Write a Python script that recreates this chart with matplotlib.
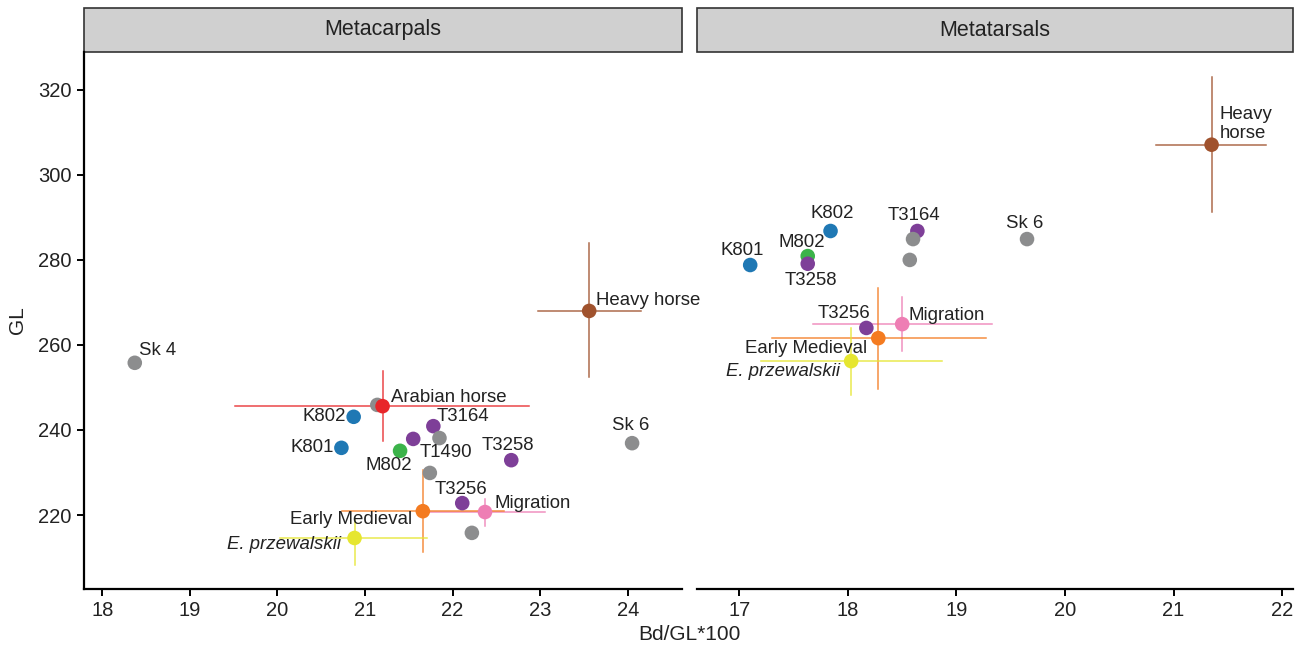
import matplotlib
matplotlib.use("Agg")
import matplotlib.pyplot as plt
from matplotlib.patches import Rectangle

plt.rcParams.update({"font.family": ["Liberation Sans", "DejaVu Sans"], "font.size": 13})

COLORS = {"grey": "#8C8D8E", "blue": "#1F78B4", "green": "#3BB34A", "purple": "#7E3F98",
          "red": "#E8262A", "brown": "#A0522D", "orange": "#F47B20", "pink": "#EE7EB4",
          "yellow": "#E6E630"}
TXT = "#222222"

# ---- Metacarpals: individual specimens ----
mc_x = [18.37, 21.14, 20.87, 20.73, 21.40, 21.55, 21.78, 21.85, 21.74, 22.67, 24.05, 22.11, 22.22]
mc_y = [255.8, 245.9, 243.1, 235.8, 235.1, 237.9, 240.9, 238.1, 229.9, 232.9, 236.9, 222.8, 215.8]
mc_grp = ["grey", "grey", "blue", "blue", "green", "purple", "purple", "grey", "grey",
          "purple", "grey", "purple", "grey"]
mc_lab = ["Sk 4", "", "K802", "K801", "M802", "", "T3164", "", "T1490", "T3258", "Sk 6", "T3256", ""]
# label placement: (dx px, dy px, ha)
mc_pos = [(4, -12, "left"), None, (-8, 0, "right"), (-8, 0, "right"), (12, 15, "right"), None,
          (3, -10, "left"), None, (16, -20, "center"), (-3, -15, "center"), (-1, -18, "center"),
          (-1, -14, "center"), None]

# ---- Metacarpals: reference means with ranges ----
mc_ref = ["Arabian horse", "Heavy horse", "Migration", "Early Medieval", "E. przewalskii"]
mc_ref_col = ["red", "brown", "pink", "orange", "yellow"]
mc_ref_x = [21.20, 23.56, 22.37, 21.66, 20.88]
mc_ref_y = [245.6, 268.0, 220.7, 220.9, 214.6]
mc_ref_xlo = [19.51, 22.97, 21.71, 20.74, 20.03]
mc_ref_xhi = [22.87, 24.15, 23.06, 22.59, 21.71]
mc_ref_ylo = [237.4, 252.5, 217.4, 211.3, 208.2]
mc_ref_yhi = [253.9, 284.0, 223.8, 230.6, 218.8]
mc_ref_pos = [(8, -9, "left"), (7, -10, "left"), (9, -9, "left"), (-11, 8, "right"), (-14, 7, "right")]

# ---- Metatarsals: individual specimens ----
mt_x = [17.84, 17.10, 17.63, 17.63, 18.64, 18.60, 18.57, 19.65, 18.17]
mt_y = [286.8, 278.8, 280.9, 279.1, 286.8, 284.9, 280.0, 284.9, 264.0]
mt_grp = ["blue", "blue", "green", "purple", "purple", "grey", "grey", "grey", "purple"]
mt_lab = ["K802", "K801", "M802", "T3258", "T3164", "", "", "Sk 6", "T3256"]
mt_pos = [(2, -17, "center"), (-8, -15, "center"), (-6, -14, "center"), (3, 17, "center"),
          (-3, -15, "center"), None, None, (-2, -16, "center"), (-22, -14, "center")]

# ---- Metatarsals: reference means with ranges ----
mt_ref = ["Heavy\nhorse", "Migration", "Early Medieval", "E. przewalskii"]
mt_ref_col = ["brown", "pink", "orange", "yellow"]
mt_ref_x = [21.35, 18.50, 18.28, 18.03]
mt_ref_y = [307.1, 264.9, 261.6, 256.2]
mt_ref_xlo = [20.84, 17.68, 17.30, 17.20]
mt_ref_xhi = [21.85, 19.33, 19.27, 18.87]
mt_ref_ylo = [291.3, 258.6, 249.6, 248.2]
mt_ref_yhi = [323.1, 271.3, 273.4, 264.0]
mt_ref_pos = [(8, -21, "left"), (6, -9, "left"), (-11, 10, "right"), (-11, 10, "right")]

W, H = 1305, 645
fig = plt.figure(figsize=(W / 100, H / 100), dpi=100)


def px_box(x0, y0, x1, y1):
    return [x0 / W, 1 - y1 / H, (x1 - x0) / W, (y1 - y0) / H]


def label(ax, text, x, y, pos, italic=False):
    dx, dy, ha = pos
    ax.annotate(text, (x, y), xytext=(dx * 0.72, -dy * 0.72), textcoords="offset points",
                ha=ha, va="center", fontsize=13.4, color=TXT,
                style="italic" if italic else "normal", linespacing=1.15)


def panel(ax, title, xs, ys, grp, labs, poss, ref, rcol, rx, ry, rxlo, rxhi, rylo, ryhi, rpos):
    for i in range(len(ref)):
        c = COLORS[rcol[i]]
        ax.plot([rxlo[i], rxhi[i]], [ry[i], ry[i]], color=c, lw=1.1, alpha=0.85, zorder=1)
        ax.plot([rx[i], rx[i]], [rylo[i], ryhi[i]], color=c, lw=1.1, alpha=0.85, zorder=1)
    ax.scatter(xs, ys, s=110, c=[COLORS[g] for g in grp], edgecolors="none", zorder=2)
    ax.scatter(rx, ry, s=110, c=[COLORS[c] for c in rcol], edgecolors="none", zorder=3)
    for x, y, t, p in zip(xs, ys, labs, poss):
        if t:
            label(ax, t, x, y, p)
    for x, y, t, p in zip(rx, ry, ref, rpos):
        label(ax, t, x, y, p, italic=t.startswith("E. "))
    for s in ("top", "right"):
        ax.spines[s].set_visible(False)
    ax.spines["bottom"].set_linewidth(1.6)
    ax.spines["left"].set_linewidth(1.6)
    ax.tick_params(length=5, width=1.4, labelsize=14.5, labelcolor=TXT, pad=4)
    ax.set_ylim(202.6, 328.9)
    ax.set_yticks([220, 240, 260, 280, 300, 320])
    # facet strip above the panel
    ax.add_patch(Rectangle((0, 1.0), 1, 44 / 537, transform=ax.transAxes, clip_on=False,
                           facecolor="#D0D0D0", edgecolor="#333333", lw=1.2))
    ax.text(0.5, 1 + 22 / 537, title, transform=ax.transAxes, ha="center", va="center",
            fontsize=15.5, color=TXT)


ax1 = fig.add_axes(px_box(84, 52, 682, 589))
ax2 = fig.add_axes(px_box(697, 52, 1293, 589))
ax2.patch.set_visible(False)

panel(ax1, "Metacarpals", mc_x, mc_y, mc_grp, mc_lab, mc_pos, mc_ref, mc_ref_col,
      mc_ref_x, mc_ref_y, mc_ref_xlo, mc_ref_xhi, mc_ref_ylo, mc_ref_yhi, mc_ref_pos)
panel(ax2, "Metatarsals", mt_x, mt_y, mt_grp, mt_lab, mt_pos, mt_ref, mt_ref_col,
      mt_ref_x, mt_ref_y, mt_ref_xlo, mt_ref_xhi, mt_ref_ylo, mt_ref_yhi, mt_ref_pos)

ax1.set_xlim(17.79, 24.62)
ax1.set_xticks(range(18, 25))
ax2.set_xlim(16.61, 22.10)
ax2.set_xticks(range(17, 23))
ax2.spines["left"].set_visible(False)
ax2.tick_params(axis="y", left=False, labelleft=False)

fig.text(18 / W, 1 - 320 / H, "GL", ha="center", va="center", rotation=90,
         fontsize=15, color=TXT)
fig.text(689 / W, 1 - 634 / H, "Bd/GL*100", ha="center", va="center", fontsize=15, color=TXT)

fig.savefig("out.png", dpi=100)
